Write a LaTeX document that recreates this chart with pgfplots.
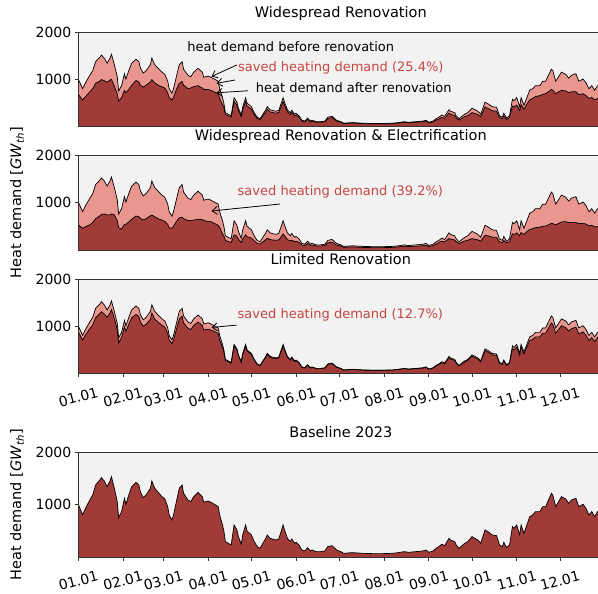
\documentclass[border=0pt]{standalone}
\usepackage{fontspec}
\setmainfont{DejaVu Sans}
\usepackage{pgfplots}
\pgfplotsset{compat=1.18}
\usepackage{pgfplotstable}
\usetikzlibrary{arrows.meta}
\definecolor{darkred}{RGB}{161,59,56}
\definecolor{pinkred}{RGB}{233,150,143}
\definecolor{bggray}{RGB}{242,242,242}
\definecolor{savedred}{RGB}{196,70,66}

\pgfplotstableread{
d B A1 A2 A3
0 1010 690 530 880
3 806 566 456 707
5 933 640 490 815
8 1092 740 530 950
10 1187 810 580 1030
12 1378 920 660 1180
15 1473 970 720 1270
16 1518 1000 750 1308
18 1454 975 758 1260
20 1346 945 740 1190
22 1454 990 737 1280
23 1537 1005 760 1350
25 1314 860 740 1166
27 1060 700 620 930
28 756 540 470 650
30 870 620 440 760
32 1124 770 540 990
33 1010 720 540 890
35 1187 790 590 1040
37 1346 880 646 1180
40 1429 980 716 1250
42 1378 950 700 1210
43 1251 880 670 1100
45 1137 840 632 1000
47 1187 880 660 1040
50 1314 950 720 1150
51 1454 1000 737 1280
53 1314 930 700 1150
56 1219 870 650 1070
58 1156 850 630 1020
60 1111 820 600 980
62 965 720 540 850
63 806 620 470 710
65 711 566 456 630
66 806 620 500 710
68 1060 790 600 930
70 1314 920 680 1150
72 1378 960 688 1210
73 1219 880 660 1070
76 1092 810 620 960
78 1060 820 618 930
80 1156 850 630 1015
83 1238 870 646 1090
86 1156 820 640 1015
87 1048 790 620 920
90 1073 790 600 940
92 1048 770 597 920
97 965 700 520 850
98 806 600 480 710
100 616 470 340 550
101 489 400 290 440
102 298 260 200 275
104 267 235 180 250
106 235 205 160 220
107 425 370 230 400
108 616 540 320 580
110 521 455 290 495
111 394 345 230 375
113 248 215 160 235
114 425 370 230 400
116 616 535 320 585
117 502 440 280 477
120 425 370 250 404
122 298 260 190 283
124 203 177 140 193
126 171 150 125 162
128 267 233 170 254
130 362 315 220 344
131 425 370 250 404
133 362 315 220 344
135 343 300 210 326
137 330 288 205 314
139 349 305 215 332
140 438 380 250 416
142 616 535 340 585
143 521 455 300 495
145 362 315 220 344
147 298 260 190 283
148 349 305 210 332
150 267 233 175 254
151 286 250 185 272
153 235 205 160 223
155 140 122 105 133
157 121 105 95 115
159 184 160 135 175
161 121 105 95 115
162 140 122 105 133
165 108 95 85 103
168 108 95 85 103
171 121 105 95 115
173 203 177 150 193
176 222 195 165 211
179 140 122 105 133
182 108 97 85 103
184 76 68 58 72
190 89 80 65 85
197 76 68 55 72
204 70 63 50 67
211 70 63 50 67
218 76 68 55 72
222 89 80 65 85
226 108 97 80 103
229 95 85 72 90
234 108 97 80 103
239 121 108 90 115
241 140 125 100 133
243 95 85 72 90
246 121 105 90 115
248 171 140 125 160
250 203 165 160 190
252 248 200 185 232
254 222 180 170 207
255 267 215 195 250
257 362 290 240 337
258 330 265 230 307
261 298 240 210 277
262 235 190 175 219
264 171 140 135 159
266 222 180 165 207
268 267 215 190 248
270 298 235 205 277
273 394 300 240 366
277 330 260 215 307
279 267 215 185 248
282 521 420 310 485
284 489 390 300 455
287 425 340 270 395
290 413 330 265 384
292 235 195 175 219
294 203 170 155 189
295 286 230 200 266
297 184 155 150 171
299 235 195 175 219
301 584 440 340 530
302 552 420 330 500
304 616 460 360 560
306 425 340 300 390
307 616 470 370 560
309 457 370 330 415
311 616 480 390 560
313 775 570 430 700
315 806 600 450 720
317 870 640 470 775
320 870 660 480 775
322 965 690 500 855
324 965 700 505 855
326 1092 740 530 960
328 1219 790 560 1070
329 1187 775 555 1040
331 965 700 530 850
333 1060 740 560 930
335 1156 770 590 1010
338 1111 760 597 970
340 1029 720 580 900
342 1092 740 580 950
345 1124 740 580 980
347 965 680 555 840
350 1010 700 562 880
352 933 660 545 810
354 806 600 510 700
356 870 620 520 760
358 775 570 490 675
360 870 600 491 760
362 850 580 480 740
364 880 600 490 765
}\data

\pgfplotsset{
  panel/.style={
    scale only axis, width=525pt,
    xmin=0, xmax=364, ymin=0, ymax=2000,
    ytick={1000,2000},
    axis background/.style={fill=bggray},
    axis line style={black!80, line width=0.8pt},
    tick style={black!80, line width=0.8pt},
    tick align=outside, major tick length=3.5pt,
    xtick pos=bottom, ytick pos=left,
    /pgf/number format/assume math mode=true,
    /pgf/number format/1000 sep={},
    tick label style={font=\fontsize{14}{16}\selectfont},
    title style={font=\fontsize{14.5}{17}\selectfont, at={(axis description cs:0.5,1)}, anchor=base, yshift=8.5pt},
    every axis y label/.style={at={(axis description cs:-0.1168,0.5)}, rotate=90, anchor=center, font=\fontsize{14.5}{17}\selectfont},
    axis on top,
  },
  nomonths/.style={xtick=\empty},
  months/.style={
    xtick={0,31,59,90,120,151,181,212,243,273,304,334},
    xticklabels={01.01,02.01,03.01,04.01,05.01,06.01,07.01,08.01,09.01,10.01,11.01,12.01},
    xticklabel style={yshift=-20pt, rotate=15, anchor=center},
  },
}
\newcommand{\renpanel}[1]{%
  \addplot[draw=none, fill=pinkred] table[x=d,y=B]{\data} \closedcycle;
  \addplot[draw=none, fill=darkred] table[x=d,y=#1]{\data} \closedcycle;
  \addplot[black, line width=0.7pt] table[x=d,y=B]{\data};
  \addplot[black, line width=0.7pt] table[x=d,y=#1]{\data};
}
\tikzset{ann/.style={font=\fontsize{13}{15}\selectfont, inner sep=0pt},
  annarrow/.style={black, line width=0.8pt, -{Straight Barb[length=5pt,width=8pt]}}}

\begin{document}
\begin{tikzpicture}
\begin{axis}[panel, nomonths, height=94.5pt, at={(0pt,0pt)}, anchor=north west,
  title={Widespread Renovation}]
\renpanel{A1}
\node[ann] at (axis cs:147.3,1695) {heat demand before renovation};
\node[ann, text=savedred] at (axis cs:182,1237) {saved heating demand (25.4\%)};
\node[ann] at (axis cs:191,826) {heat demand after renovation};
\draw[annarrow] (axis cs:110,1310) -- (axis cs:92.4,1064);
\draw[annarrow] (axis cs:108.6,990) -- (axis cs:95.9,920);
\draw[annarrow] (axis cs:117.8,763) -- (axis cs:95.9,720);
\end{axis}

\begin{axis}[panel, nomonths, height=95pt, at={(0pt,-122.7pt)}, anchor=north west,
  title={Widespread Renovation \& Electrification},
  ylabel={Heat demand [\textit{GW}\textsubscript{\textit{th}}]}]
\renpanel{A2}
\node[ann, text=savedred] at (axis cs:181.7,1227) {saved heating demand (39.2\%)};
\draw[annarrow] (axis cs:139.8,968) -- (axis cs:92.4,821);
\end{axis}

\begin{axis}[panel, months, height=94.5pt, at={(0pt,-246.7pt)}, anchor=north west,
  title={Limited Renovation}]
\renpanel{A3}
\node[ann, text=savedred] at (axis cs:181.7,1236) {saved heating demand (12.7\%)};
\draw[annarrow] (axis cs:109.8,1024) -- (axis cs:92.4,975);
\end{axis}

\begin{axis}[panel, months, height=105pt, at={(0pt,-420pt)}, anchor=north west,
  title={Baseline 2023},
  ylabel={Heat demand [\textit{GW}\textsubscript{\textit{th}}]}]
\addplot[draw=none, fill=darkred] table[x=d,y=B]{\data} \closedcycle;
\addplot[black, line width=0.7pt] table[x=d,y=B]{\data};
\end{axis}
\pgfresetboundingbox
\useasboundingbox (-78.3pt,32.3pt) rectangle (519.7pt,-561.7pt);
\end{tikzpicture}
\end{document}
